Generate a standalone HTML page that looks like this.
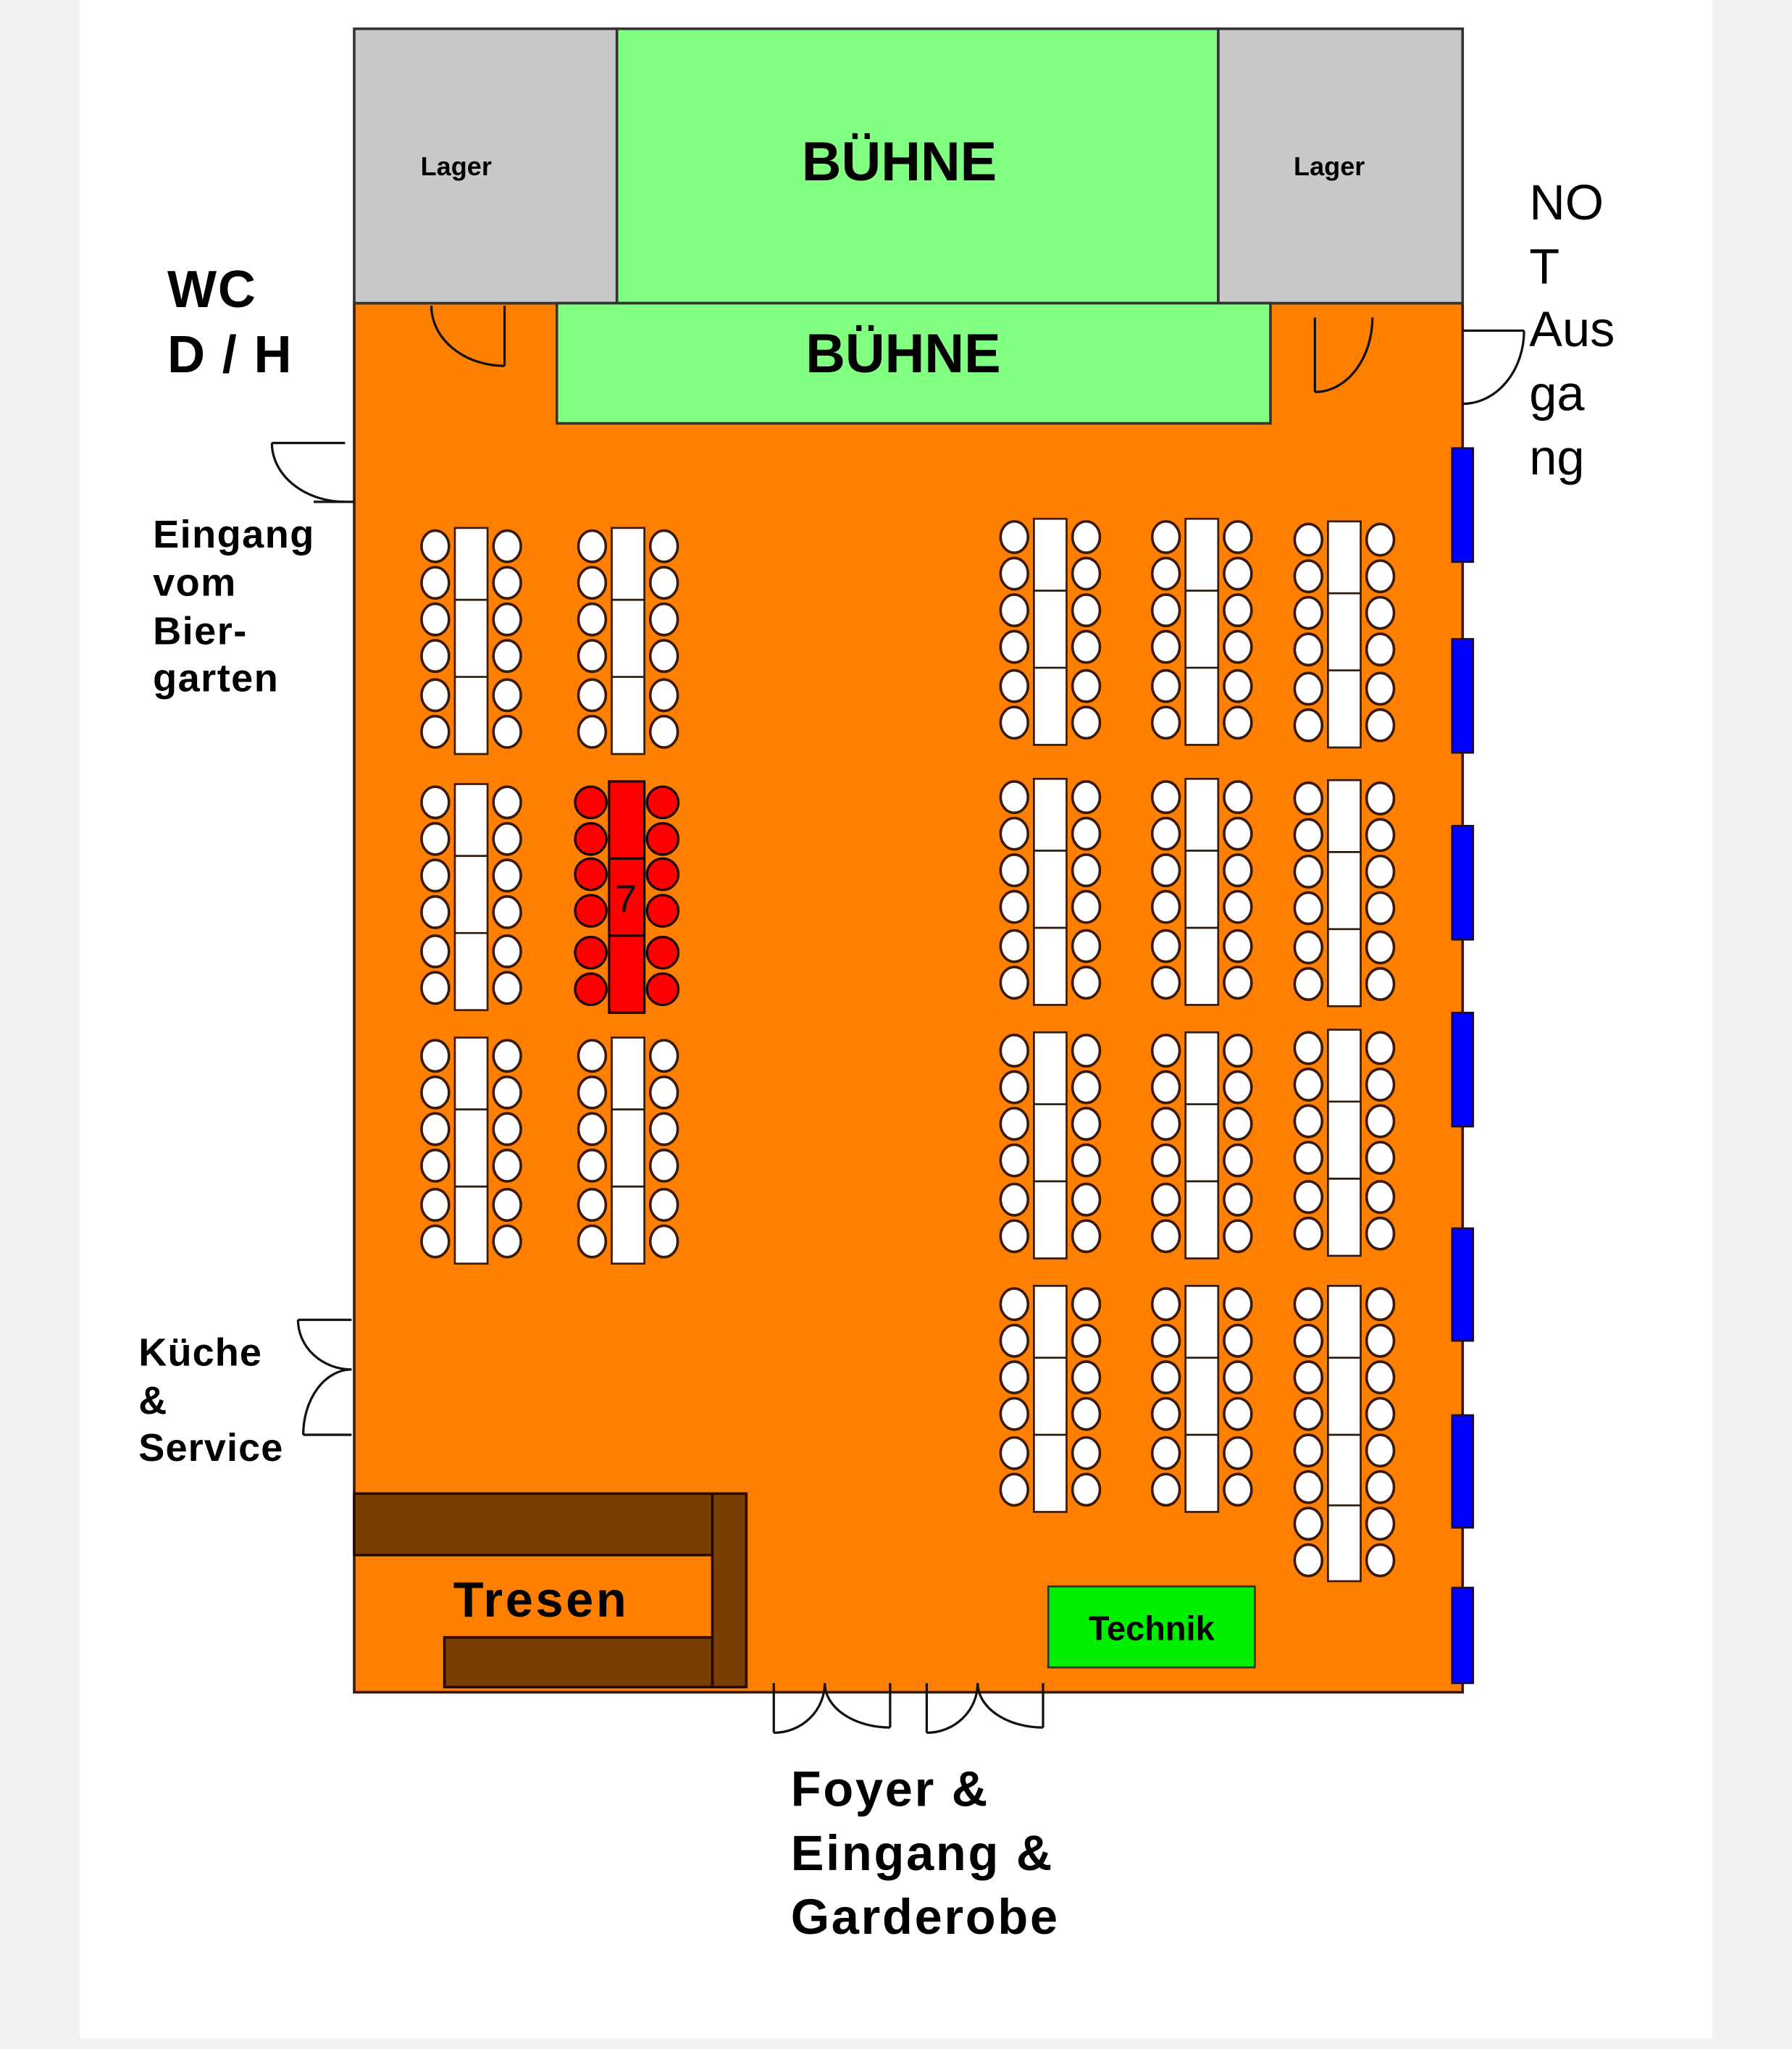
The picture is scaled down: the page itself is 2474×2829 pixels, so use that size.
<!DOCTYPE html>
<html><head><meta charset="utf-8"><style>
html,body{margin:0;padding:0;background:#f2f2f2}
svg{display:block}
text{font-family:"Liberation Sans",sans-serif}
</style></head><body>
<svg width="2474" height="2829" viewBox="0 0 1371 1568" preserveAspectRatio="none" xmlns="http://www.w3.org/2000/svg">
<defs>
<g id="t">
<rect x="0" y="0" width="25" height="173" fill="#fff" stroke="#3a1a0a" stroke-width="1.5"/>
<line x1="0" y1="55" x2="25" y2="55" stroke="#2a1a0a" stroke-width="1.5"/>
<line x1="0" y1="114" x2="25" y2="114" stroke="#2a1a0a" stroke-width="1.5"/>
<g fill="#fff" stroke="#3a1a0a" stroke-width="2">
<ellipse cx="-15" cy="14" rx="10.5" ry="12"/><ellipse cx="-15" cy="42" rx="10.5" ry="12"/><ellipse cx="-15" cy="70" rx="10.5" ry="12"/><ellipse cx="-15" cy="98" rx="10.5" ry="12"/><ellipse cx="-15" cy="128" rx="10.5" ry="12"/><ellipse cx="-15" cy="156" rx="10.5" ry="12"/>
<ellipse cx="40" cy="14" rx="10.5" ry="12"/><ellipse cx="40" cy="42" rx="10.5" ry="12"/><ellipse cx="40" cy="70" rx="10.5" ry="12"/><ellipse cx="40" cy="98" rx="10.5" ry="12"/><ellipse cx="40" cy="128" rx="10.5" ry="12"/><ellipse cx="40" cy="156" rx="10.5" ry="12"/>
</g>
</g>
</defs>
<rect x="0" y="0" width="1371" height="1568" fill="#f2f2f2"/>
<rect x="61" y="0" width="1249" height="1560" fill="#fff"/>

<rect x="271" y="232" width="848" height="1063" fill="#ff8000" stroke="#3a1a0a" stroke-width="2"/>
<rect x="271" y="22" width="201" height="210" fill="#c8c8c8" stroke="#333" stroke-width="2"/>
<rect x="932" y="22" width="187" height="210" fill="#c8c8c8" stroke="#333" stroke-width="2"/>
<rect x="472" y="22" width="460" height="210" fill="#80ff80" stroke="#333" stroke-width="2"/>
<rect x="426" y="232" width="546" height="92" fill="#80ff80" stroke="#333" stroke-width="2"/>
<text x="349" y="134" font-size="20" font-weight="bold" text-anchor="middle">Lager</text>
<text x="1017" y="134" font-size="20" font-weight="bold" text-anchor="middle">Lager</text>
<text x="688" y="138" font-size="42" font-weight="bold" text-anchor="middle">BÜHNE</text>
<text x="691" y="285" font-size="42" font-weight="bold" text-anchor="middle">BÜHNE</text>

<g fill="none" stroke="#111" stroke-width="1.8">
<line x1="386" y1="234" x2="386" y2="280"/><path d="M330,234 A56,46 0 0 0 386,280"/>
<line x1="1006" y1="243" x2="1006" y2="300"/><path d="M1050,243 A44,57 0 0 1 1006,300"/>
<line x1="1119" y1="253" x2="1166" y2="253"/><path d="M1166,253 A47,56 0 0 1 1119,309"/>
<line x1="208" y1="339" x2="264" y2="339"/><path d="M208,339 A56,45 0 0 0 264,384"/><line x1="240" y1="384" x2="271" y2="384"/>
<line x1="228" y1="1010" x2="269" y2="1010"/><path d="M228,1010 A41,38 0 0 0 269,1048"/>
<line x1="232" y1="1098" x2="269" y2="1098"/><path d="M232,1098 A37,50 0 0 1 269,1048"/>
<line x1="592" y1="1288" x2="592" y2="1326"/><path d="M592,1326 A39,38 0 0 0 631,1288"/>
<line x1="681" y1="1288" x2="681" y2="1322"/><path d="M681,1322 A50,34 0 0 1 631,1288"/>
<line x1="709" y1="1288" x2="709" y2="1326"/><path d="M709,1326 A39,38 0 0 0 748,1288"/>
<line x1="798" y1="1288" x2="798" y2="1322"/><path d="M798,1322 A50,34 0 0 1 748,1288"/>
</g>

<g fill="#0000ff" stroke="#1a0a3a" stroke-width="1.5">
<rect x="1111" y="343" width="16" height="87"/>
<rect x="1111" y="489" width="16" height="87"/>
<rect x="1111" y="632" width="16" height="87"/>
<rect x="1111" y="775" width="16" height="87"/>
<rect x="1111" y="940" width="16" height="86"/>
<rect x="1111" y="1083" width="16" height="86"/>
<rect x="1111" y="1215" width="16" height="73"/>
</g>

<use href="#t" x="348" y="404"/>
<use href="#t" x="468" y="404"/>
<use href="#t" x="348" y="600"/>
<use href="#t" x="348" y="794"/>
<use href="#t" x="468" y="794"/>
<use href="#t" x="791" y="397"/>
<use href="#t" x="907" y="397"/>
<use href="#t" x="1016" y="399"/>
<use href="#t" x="791" y="596"/>
<use href="#t" x="907" y="596"/>
<use href="#t" x="1016" y="597"/>
<use href="#t" x="791" y="790"/>
<use href="#t" x="907" y="790"/>
<use href="#t" x="1016" y="788"/>
<use href="#t" x="791" y="984"/>
<use href="#t" x="907" y="984"/>
<g transform="translate(1016,984)">
<rect x="0" y="0" width="25" height="226" fill="#fff" stroke="#3a1a0a" stroke-width="1.5"/>
<line x1="0" y1="55" x2="25" y2="55" stroke="#2a1a0a" stroke-width="1.5"/>
<line x1="0" y1="114" x2="25" y2="114" stroke="#2a1a0a" stroke-width="1.5"/>
<line x1="0" y1="168" x2="25" y2="168" stroke="#2a1a0a" stroke-width="1.5"/>
<g fill="#fff" stroke="#3a1a0a" stroke-width="2">
<ellipse cx="-15" cy="14" rx="10.5" ry="12"/><ellipse cx="-15" cy="42" rx="10.5" ry="12"/><ellipse cx="-15" cy="70" rx="10.5" ry="12"/><ellipse cx="-15" cy="98" rx="10.5" ry="12"/><ellipse cx="-15" cy="126" rx="10.5" ry="12"/><ellipse cx="-15" cy="154" rx="10.5" ry="12"/><ellipse cx="-15" cy="182" rx="10.5" ry="12"/><ellipse cx="-15" cy="210" rx="10.5" ry="12"/>
<ellipse cx="40" cy="14" rx="10.5" ry="12"/><ellipse cx="40" cy="42" rx="10.5" ry="12"/><ellipse cx="40" cy="70" rx="10.5" ry="12"/><ellipse cx="40" cy="98" rx="10.5" ry="12"/><ellipse cx="40" cy="126" rx="10.5" ry="12"/><ellipse cx="40" cy="154" rx="10.5" ry="12"/><ellipse cx="40" cy="182" rx="10.5" ry="12"/><ellipse cx="40" cy="210" rx="10.5" ry="12"/>
</g>
</g>

<g stroke="#1a0000" stroke-width="1.8" fill="#ff0000">
<rect x="466" y="598" width="27" height="177"/>
<line x1="466" y1="657" x2="493" y2="657"/>
<line x1="466" y1="716" x2="493" y2="716"/>
<circle cx="452" cy="614" r="12"/><circle cx="452" cy="642" r="12"/><circle cx="452" cy="669" r="12"/><circle cx="452" cy="697" r="12"/><circle cx="452" cy="729" r="12"/><circle cx="452" cy="757" r="12"/>
<circle cx="507" cy="614" r="12"/><circle cx="507" cy="642" r="12"/><circle cx="507" cy="669" r="12"/><circle cx="507" cy="697" r="12"/><circle cx="507" cy="729" r="12"/><circle cx="507" cy="757" r="12"/>
</g>
<text x="479" y="698" font-size="30" text-anchor="middle" fill="#111">7</text>

<g fill="#7a3e00" stroke="#2a0a00" stroke-width="2">
<rect x="271" y="1143" width="274" height="47"/>
<rect x="545" y="1143" width="26" height="148"/>
<rect x="340" y="1253" width="205" height="38"/>
</g>
<text x="414" y="1237" font-size="38" font-weight="bold" text-anchor="middle" letter-spacing="2">Tresen</text>

<rect x="802" y="1214" width="158" height="62" fill="#00ee00" stroke="#333" stroke-width="1.5"/>
<text x="881" y="1255" font-size="26" font-weight="bold" text-anchor="middle">Technik</text>

<g font-weight="bold">
<text x="128" y="235" font-size="40" letter-spacing="1">WC</text>
<text x="128" y="285" font-size="40" letter-spacing="1">D / H</text>
<text x="117" y="419" font-size="30" letter-spacing="0.8">Eingang</text>
<text x="117" y="456" font-size="30" letter-spacing="0.8">vom</text>
<text x="117" y="493" font-size="30" letter-spacing="0.8">Bier-</text>
<text x="117" y="529" font-size="30" letter-spacing="0.8">garten</text>
<text x="106" y="1045" font-size="30" letter-spacing="0.6">Küche</text>
<text x="106" y="1082" font-size="30">&amp;</text>
<text x="106" y="1118" font-size="30" letter-spacing="0.6">Service</text>
<text x="605" y="1382" font-size="38" letter-spacing="1.5">Foyer &amp;</text>
<text x="605" y="1431" font-size="38" letter-spacing="1.5">Eingang &amp;</text>
<text x="605" y="1480" font-size="38" letter-spacing="1.5">Garderobe</text>
</g>
<g font-size="38">
<text x="1170" y="168">NO</text>
<text x="1170" y="217">T</text>
<text x="1170" y="265">Aus</text>
<text x="1170" y="314">ga</text>
<text x="1170" y="363">ng</text>
</g>
</svg>
</body></html>
